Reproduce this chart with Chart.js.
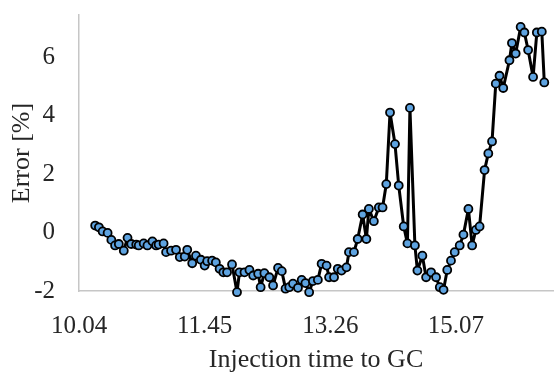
<!DOCTYPE html>
<html>
<head>
<meta charset="utf-8">
<script src="https://cdn.jsdelivr.net/npm/chart.js@4.4.0/dist/chart.umd.min.js"></script>
<style>
  html, body { margin: 0; padding: 0; background: #fff; }
  #wrap { width: 560px; height: 374px; }
</style>
</head>
<body>
<div id="wrap"><canvas id="errorChart" width="560" height="374"></canvas></div>
<script>
// injection times (hh:mm) and measured error
const injectionTimes = [
  '10:17', '10:20', '10:23', '10:27', '10:30', '10:33', '10:36', '10:40', '10:43', '10:46',
  '10:50', '10:52', '10:56', '10:59', '11:03', '11:06', '11:08', '11:12', '11:14', '11:18',
  '11:22', '11:25', '11:29', '11:31', '11:35', '11:38', '11:42', '11:45', '11:47', '11:51',
  '11:54', '11:57', '12:00', '12:03', '12:07', '12:11', '12:13', '12:17', '12:21', '12:24',
  '12:28', '12:30', '12:33', '12:37', '12:40', '12:44', '12:47', '12:50', '12:53', '12:56',
  '13:00', '13:03', '13:06', '13:09', '13:12', '13:16', '13:19', '13:23', '13:25', '13:29',
  '13:32', '13:35', '13:39', '13:41', '13:45', '13:48', '13:52', '13:55', '13:57', '14:01',
  '14:05', '14:08', '14:11', '14:14', '14:18', '14:21', '14:25', '14:28', '14:30', '14:34',
  '14:36', '14:40', '14:43', '14:47', '14:51', '14:54', '14:57', '15:00', '15:03', '15:06',
  '15:10', '15:13', '15:17', '15:20', '15:23', '15:26', '15:30', '15:33', '15:36', '15:39',
  '15:42', '15:45', '15:50', '15:52', '15:55', '15:59', '16:02', '16:05', '16:09', '16:12',
  '16:16', '16:18'
];

const errorValues = [
  0.24, 0.18, 0.04, -0.01, -0.25, -0.44, -0.39, -0.62, -0.18, -0.39,
  -0.41, -0.44, -0.37, -0.44, -0.30, -0.44, -0.41, -0.37, -0.67, -0.62,
  -0.59, -0.84, -0.82, -0.59, -1.05, -0.79, -0.93, -1.13, -0.98, -0.96,
  -1.02, -1.24, -1.36, -1.36, -1.09, -2.04, -1.36, -1.36, -1.28, -1.47,
  -1.41, -1.87, -1.39, -1.53, -1.81, -1.21, -1.32, -1.92, -1.87, -1.75,
  -1.89, -1.62, -1.73, -2.04, -1.66, -1.62, -1.07, -1.13, -1.53, -1.53,
  -1.24, -1.30, -1.19, -0.67, -0.67, -0.22, 0.62, -0.22, 0.81, 0.39,
  0.86, 0.86, 1.66, 4.11, 3.03, 1.61, 0.21, -0.37, 4.27, -0.44,
  -1.30, -0.79, -1.53, -1.36, -1.53, -1.87, -1.96, -1.28, -0.96, -0.67,
  -0.44, -0.07, 0.81, -0.44, 0.09, 0.21, 2.14, 2.71, 3.12, 5.10,
  5.37, 4.95, 5.90, 6.49, 6.13, 7.04, 6.85, 6.25, 5.33, 6.85,
  6.88, 5.14
];

const xTickLabels = ['10.04', '11.45', '13.26', '15.07'];
const yTickValues = [-2, 0, 2, 4, 6];

function toMinutes(t) {
  const parts = t.split(/[:.]/);
  return parseInt(parts[0], 10) * 60 + parseInt(parts[1], 10);
}

function fmtTime(m) {
  const h = Math.floor(m / 60);
  const mm = m % 60;
  return h + '.' + (mm < 10 ? '0' : '') + mm;
}

const points = injectionTimes.map((t, i) => ({ x: toMinutes(t), y: errorValues[i] }));
const xTicks = xTickLabels.map(toMinutes);

const textColor = '#262626';
const fontFamily = '"Liberation Serif", "Times New Roman", serif';

new Chart(document.getElementById('errorChart'), {
  type: 'line',
  data: {
    datasets: [{
      data: points,
      borderColor: '#000',
      borderWidth: 3,
      borderJoinStyle: 'round',
      tension: 0,
      pointRadius: 4,
      pointBorderWidth: 1.8,
      pointBorderColor: '#000',
      pointBackgroundColor: '#5ea3e0',
      clip: false
    }]
  },
  options: {
    responsive: false,
    animation: false,
    layout: { padding: { top: 15, right: 7, left: 0, bottom: 0 } },
    plugins: {
      legend: { display: false },
      tooltip: { enabled: false }
    },
    scales: {
      x: {
        type: 'linear',
        min: 604,
        max: 985,
        afterBuildTicks: axis => { axis.ticks = xTicks.map(v => ({ value: v })); },
        afterFit: axis => {
          axis.height = 83;
          axis.paddingLeft = 0;
          axis.paddingRight = 0;
        },
        grid: { color: 'transparent', drawTicks: false },
        border: { display: true, color: '#c6c6c6', width: 1.5 },
        ticks: {
          padding: 20,
          maxRotation: 0,
          autoSkip: false,
          color: textColor,
          font: { family: fontFamily, size: 25 },
          callback: v => fmtTime(v)
        },
        title: {
          display: true,
          text: 'Injection time to GC',
          color: textColor,
          font: { family: fontFamily, size: 26, lineHeight: 1.1 },
          padding: { top: 0, bottom: 0 }
        }
      },
      y: {
        min: -2,
        max: 7.45,
        afterBuildTicks: axis => { axis.ticks = yTickValues.map(v => ({ value: v })); },
        afterFit: axis => {
          axis.width = 79;
          axis.paddingTop = 0;
          axis.paddingBottom = 0;
        },
        grid: { color: 'transparent', drawTicks: false },
        border: { display: true, color: '#c6c6c6', width: 1.5 },
        ticks: {
          padding: 24,
          color: textColor,
          font: { family: fontFamily, size: 25 }
        },
        title: {
          display: true,
          text: 'Error [%]',
          color: textColor,
          font: { family: fontFamily, size: 26, lineHeight: 1.1 },
          padding: { top: 8, bottom: 0 }
        }
      }
    }
  }
});
</script>
</body>
</html>
